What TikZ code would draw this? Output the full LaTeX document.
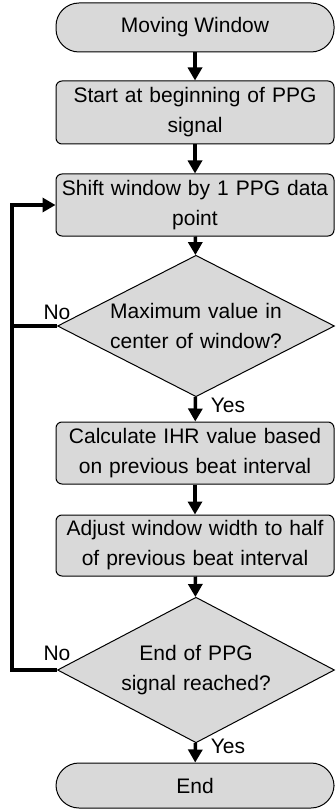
\documentclass[tikz,border=0pt]{standalone}
\usepackage{fontspec}
\setmainfont{Liberation Sans}
\usetikzlibrary{shapes.geometric,arrows.meta}
\definecolor{boxfill}{RGB}{217,217,217}
\begin{document}
\begin{tikzpicture}[x=1pt,y=-1pt,
  every node/.style={font=\fontsize{21}{30}\selectfont},
  procbox/.style={draw=black,line width=1pt,fill=boxfill,rounded corners=6pt,
    minimum width=278pt,align=center,inner sep=0pt,text width=270pt},
  termbox/.style={draw=black,line width=1pt,fill=boxfill,rounded corners=23pt,
    minimum width=278pt,inner sep=0pt},
  decbox/.style={draw=black,line width=1pt,fill=boxfill,shape=diamond,shape aspect=1,
    inner xsep=-40pt,inner ysep=-12pt,text width=200pt,align=center,
    minimum width=277pt,minimum height=128pt},
  flow/.style={line width=3.5pt,-{Triangle[width=14pt,length=13pt]}},
  plainflow/.style={line width=3.5pt},
  lbl/.style={inner sep=0pt}]
\useasboundingbox (0,0) rectangle (335,810);
\node[termbox,minimum height=49pt] (start) at (195,27.5) {Moving Window};
\node[procbox,minimum height=63pt] (b1) at (195,112.5) {Start at beginning of PPG\\signal};
\node[procbox,minimum height=62pt] (b2) at (195,205) {Shift window by 1 PPG data\\point};
\node[decbox] (d1) at (196,326) {Maximum value in\\center of window?};
\node[procbox,minimum height=62pt] (b3) at (195,453) {Calculate IHR value based\\on previous beat interval};
\node[procbox,minimum height=61pt] (b4) at (195,545.5) {Adjust window width to half\\of previous beat interval};
\node[decbox,minimum height=124pt] (d2) at (196,670) {End of PPG\\signal reached?};
\node[termbox,minimum height=45pt] (end) at (195,785.5) {End};
\coordinate (loopx) at (12,0);
\draw[flow] (start) -- (b1);
\draw[flow] (b1) -- (b2);
\draw[flow] (b2) -- (d1);
\draw[flow] (d1) -- (b3);
\draw[flow] (b3) -- (b4);
\draw[flow] (b4) -- (d2);
\draw[flow] (d2) -- (end);
\draw[plainflow] (d1.west) -- (d1.west -| loopx);
\draw[flow,line join=miter] (d2.west) -- (d2.west -| loopx) |- (b2.west);
\node[lbl] (no1) at (57,312) {No};
\node[lbl] (no2) at (57,653) {No};
\node[lbl] (yes1) at (228,405) {Yes};
\node[lbl] (yes2) at (228,746) {Yes};
\end{tikzpicture}
\end{document}
